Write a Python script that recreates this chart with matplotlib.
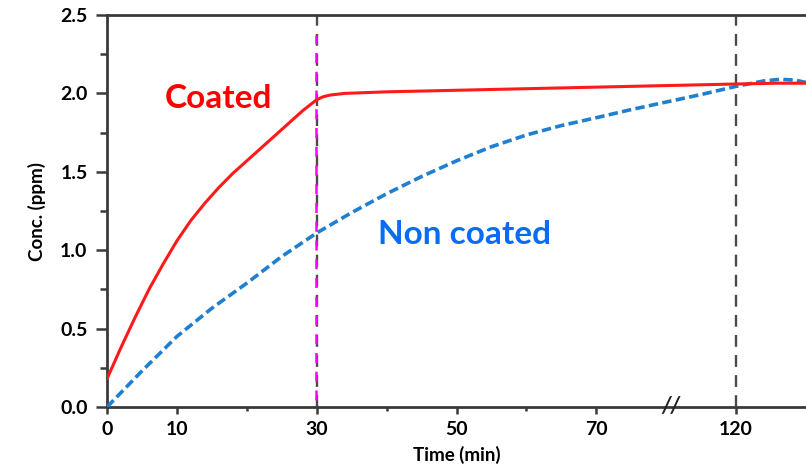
import numpy as np
import matplotlib
matplotlib.use("Agg")
import matplotlib.pyplot as plt

# time axis has a break after 70 min: 70..120 is squeezed into 70..90
def time_to_pos(t):
    t = np.asarray(t, dtype=float)
    return np.where(t <= 70, t, 70 + (t - 70) * 0.4)

# Coated (red, solid)
coated_time = [0, 2, 4, 6, 8, 10, 12, 14, 16, 18, 20, 22, 24, 26, 28, 30, 31, 32, 34, 40, 50, 60, 70,
               95, 120, 135, 145]
coated_conc = [0.18, 0.38, 0.57, 0.75, 0.91, 1.06, 1.19, 1.30, 1.40, 1.49, 1.57, 1.65, 1.73, 1.81, 1.89,
               1.96, 1.98, 1.99, 2.00, 2.01, 2.02, 2.03, 2.04, 2.05, 2.06, 2.065, 2.065]

# Non coated (blue, dashed)
noncoated_time = [0, 5, 10, 15, 20, 25, 30, 35, 40, 45, 50, 55, 60, 65, 70, 82, 95, 108, 120, 130, 136, 141, 145]
noncoated_conc = [0.00, 0.23, 0.45, 0.63, 0.79, 0.96, 1.11, 1.24, 1.36, 1.47, 1.57, 1.66, 1.735, 1.795, 1.845,
                  1.895, 1.945, 1.995, 2.045, 2.08, 2.09, 2.085, 2.07]

xtick_times = [0, 10, 30, 50, 70, 120]
xminor_times = [20, 40, 60]
yticks = [0.0, 0.5, 1.0, 1.5, 2.0, 2.5]
marker_times = [30, 120]

plt.rcParams['font.family'] = ['Lato', 'DejaVu Sans']
plt.rcParams['font.weight'] = 'bold'

fig = plt.figure(figsize=(8.06, 4.69), dpi=100)
ax = fig.add_axes([0.1328, 0.1322, 0.8672, 0.8358])

spine_col = '#3a3a3a'

# vertical reference lines
for t in marker_times:
    ax.axvline(time_to_pos(t), color='#4a4a4a', lw=1.7, ls=(0, (5, 3.5)), zorder=1)
ax.plot([time_to_pos(30) - 0.15] * 2, [0.045, 2.37], color='#ff00ff', lw=1.8,
        ls=(0, (4, 3.5)), zorder=2)

ax.plot(time_to_pos(coated_time), coated_conc, color='#ff1a1a', lw=2.2, zorder=4,
        solid_capstyle='round', solid_joinstyle='round')
ax.plot(time_to_pos(noncoated_time), noncoated_conc, color='#1f7fd1', lw=2.6,
        ls=(0, (2.6, 1.2)), zorder=3)

ax.text(16.0, 1.97, 'Coated', color='#ff0000', fontsize=24, fontweight='bold',
        ha='center', va='center')
ax.text(51.2, 1.10, 'Non coated', color='#0a6cf5', fontsize=24, fontweight='bold',
        ha='center', va='center')

ax.set_xlim(0, 100)
ax.set_ylim(0, 2.5)

ax.set_xticks(time_to_pos(xtick_times))
ax.set_xticklabels([str(t) for t in xtick_times])
ax.set_xticks(time_to_pos(xminor_times), minor=True)
ax.set_yticks(yticks)
ax.set_yticklabels([f'{v:.1f}' for v in yticks])
ax.set_yticks(np.arange(0.25, 2.5, 0.5), minor=True)

ax.tick_params(axis='both', which='major', labelsize=14, colors=spine_col,
               labelcolor='black', width=1.8)
ax.tick_params(axis='y', which='major', length=8, pad=6)
ax.tick_params(axis='y', which='minor', length=5, width=1.8, colors=spine_col)
ax.tick_params(axis='x', which='major', length=5, pad=5)
ax.tick_params(axis='x', which='minor', length=3, width=1.8, colors=spine_col)
for lab in ax.get_xticklabels() + ax.get_yticklabels():
    lab.set_fontweight('bold')

for side in ['left', 'top', 'bottom']:
    ax.spines[side].set_color(spine_col)
    ax.spines[side].set_linewidth(2.0)
ax.spines['right'].set_visible(False)

# axis break mark
ax.text(time_to_pos(96.5), 0, '//', fontsize=16, fontweight='bold', color='#222222',
        ha='center', va='center', style='italic', clip_on=False, zorder=6)

ax.set_xlabel('Time (min)', fontsize=13.5, fontweight='bold', labelpad=6)
ax.set_ylabel('Conc. (ppm)', fontsize=13.5, fontweight='bold', labelpad=10)

fig.savefig('out.png', dpi=100)
